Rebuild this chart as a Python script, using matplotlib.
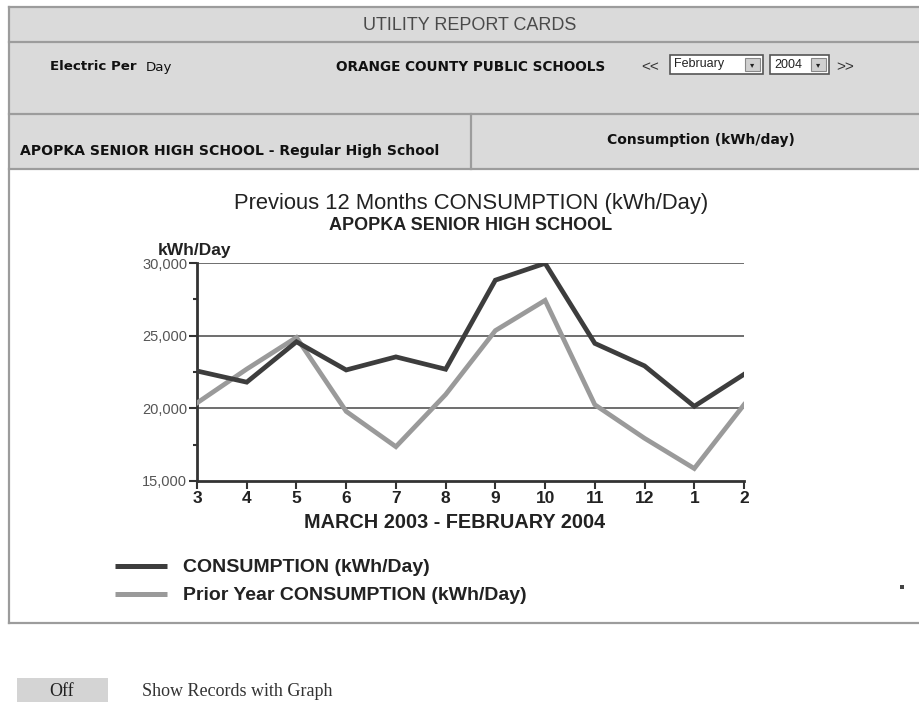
import matplotlib
matplotlib.use("Agg")
import matplotlib.pyplot as plt
from matplotlib.patches import Rectangle
from matplotlib.ticker import FixedLocator, FuncFormatter

months = ["3", "4", "5", "6", "7", "8", "9", "10", "11", "12", "1", "2"]
consumption = [22570, 21800, 24580, 22640, 23540, 22690, 28820, 29980, 24470, 22920, 20140, 22340]
prior_year = [20370, 22700, 24880, 19790, 17360, 20950, 25350, 27430, 20250, 17940, 15860, 20250]
y_ticks = [15000, 20000, 25000, 30000]
y_minor = [17500, 22500, 27500]

W, H = 920, 702
fig = plt.figure(figsize=(W / 100, H / 100), dpi=100)
fig.patch.set_facecolor("white")

bg = fig.add_axes([0, 0, 1, 1])
bg.set_xlim(0, W)
bg.set_ylim(H, 0)
bg.axis("off")

cell = "#dadada"
border = "#9c9c9c"
sans = ["Liberation Sans", "DejaVu Sans"]
verd = ["DejaVu Sans"]

# header rows
bg.add_patch(Rectangle((9, 7), W - 9, 162, facecolor=cell, edgecolor="none"))
for yy in [7, 42, 114, 169]:
    bg.plot([9, W], [yy, yy], color=border, lw=1.6)
bg.plot([9, 9], [7, 623], color=border, lw=1.6)
bg.plot([471, 471], [114, 169], color=border, lw=1.6)
bg.plot([9, W], [623, 623], color=border, lw=1.6)

bg.text(470, 25, "UTILITY REPORT CARDS", ha="center", va="center", fontsize=13,
        color="#4a4a4a", family=sans)
bg.text(50, 67, "Electric Per", ha="left", va="center", fontsize=9.6, fontweight="bold",
        color="#111111", family=verd)
bg.text(146, 67, "Day", ha="left", va="center", fontsize=9.6, color="#111111", family=verd)
bg.text(336, 67, "ORANGE COUNTY PUBLIC SCHOOLS", ha="left", va="center", fontsize=9.8,
        fontweight="bold", color="#111111", family=verd)
bg.text(641, 67, "<<", ha="left", va="center", fontsize=11, color="#333333", family=sans)
bg.text(836, 67, ">>", ha="left", va="center", fontsize=11, color="#333333", family=sans)
# select boxes
for (x0, x1, lab) in [(670, 763, "February"), (770, 829, "2004")]:
    bg.add_patch(Rectangle((x0, 55), x1 - x0, 19, facecolor="white", edgecolor="#555555", lw=1.2))
    bg.add_patch(Rectangle((x1 - 18, 58), 15, 13, facecolor="#d0d0d0", edgecolor="#888888", lw=0.8))
    bg.text(x1 - 10.5, 64.5, "\u25be", ha="center", va="center", fontsize=6, color="#222222", family=verd)
    bg.text(x0 + 4, 64.5, lab, ha="left", va="center", fontsize=9, color="#222222", family=sans)

bg.text(20, 151, "APOPKA SENIOR HIGH SCHOOL - Regular High School", ha="left", va="center",
        fontsize=10.1, fontweight="bold", color="#111111", family=verd)
bg.text(701, 140, "Consumption (kWh/day)", ha="center", va="center", fontsize=10,
        fontweight="bold", color="#111111", family=verd)

# chart titles
bg.text(471, 203, "Previous 12 Months CONSUMPTION (kWh/Day)", ha="center", va="center",
        fontsize=15.8, color="#222222", family=sans)
bg.text(471, 225, "APOPKA SENIOR HIGH SCHOOL", ha="center", va="center",
        fontsize=13, fontweight="bold", color="#222222", family=sans)
bg.text(158, 255, "kWh/Day", ha="left", va="baseline", fontsize=12.5, fontweight="bold",
        color="#222222", family=sans)
bg.text(455, 522, "MARCH 2003 - FEBRUARY 2004", ha="center", va="center",
        fontsize=14.3, fontweight="bold", color="#222222", family=sans)

# legend
dark = "#3d3d3d"
light = "#9a9a9a"
bg.plot([115, 167], [566, 566], color=dark, lw=3.6, solid_capstyle="butt")
bg.plot([115, 167], [594, 594], color=light, lw=3.6, solid_capstyle="butt")
bg.text(183, 568, "CONSUMPTION (kWh/Day)", ha="left", va="center", fontsize=14,
        fontweight="bold", color="#222222", family=sans)
bg.text(183, 596, "Prior Year CONSUMPTION (kWh/Day)", ha="left", va="center", fontsize=14,
        fontweight="bold", color="#222222", family=sans)
bg.add_patch(Rectangle((900, 585), 4, 4, facecolor="#444444", edgecolor="none"))

# bottom controls
bg.add_patch(Rectangle((17, 678), 91, 26, facecolor="#d4d4d4", edgecolor="none"))
bg.text(62, 692, "Off", ha="center", va="center", fontsize=13, color="#222222",
        family=["Liberation Serif"])
bg.text(142, 692, "Show Records with Graph", ha="left", va="center", fontsize=13,
        color="#333333", family=["Liberation Serif"])

# chart axes
left, right, top, bottom = 197, 744, 263, 481
ax = fig.add_axes([left / W, 1 - bottom / H, (right - left) / W, (bottom - top) / H])
ax.set_facecolor("none")
x = list(range(len(months)))
ax.plot(x, prior_year, color=light, lw=3.4, zorder=3, solid_joinstyle="miter")
ax.plot(x, consumption, color=dark, lw=3.4, zorder=4, solid_joinstyle="miter")
ax.set_xlim(0, len(months) - 1)
ax.set_ylim(y_ticks[0], y_ticks[-1])
for v in y_ticks[1:]:
    ax.axhline(v, color="#555555", lw=1.2, zorder=2)
ax.set_xticks(x)
ax.set_xticklabels(months, fontsize=12.5, fontweight="bold", color="#222222", family=sans)
ax.yaxis.set_major_locator(FixedLocator(y_ticks))
ax.yaxis.set_minor_locator(FixedLocator(y_minor))
ax.yaxis.set_major_formatter(FuncFormatter(lambda v, p: f"{int(v):,}"))
for lab in ax.get_yticklabels():
    lab.set_fontsize(10.5)
    lab.set_color("#555555")
    lab.set_family(sans)
ax.tick_params(axis="y", which="major", length=6, width=1.5, color="#333333", pad=1)
ax.tick_params(axis="y", which="minor", length=3, width=1.5, color="#333333")
ax.tick_params(axis="x", length=6, width=1.5, color="#333333", pad=1)
for s in ["top", "right"]:
    ax.spines[s].set_visible(False)
for s in ["left", "bottom"]:
    ax.spines[s].set_color("#333333")
    ax.spines[s].set_linewidth(2)

fig.savefig("out.png", dpi=100, facecolor="white")
